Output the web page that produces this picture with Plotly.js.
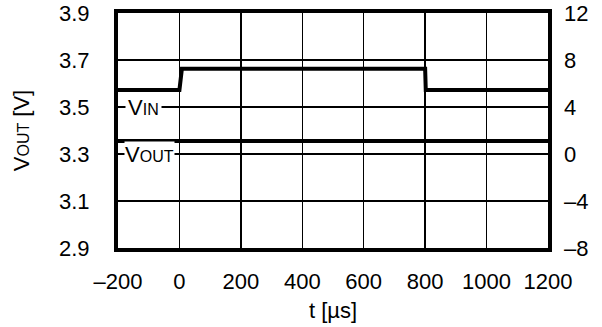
<!DOCTYPE html>
<html>
<head>
<meta charset="utf-8">
<script src="https://cdn.plot.ly/plotly-3.0.1.min.js"></script>
<style>html,body{margin:0;padding:0;background:#fff;}</style>
</head>
<body>
<div id="chart" style="width:602px;height:327px;"></div>
<script>
// Time axis (µs)
const vinTime = [-200, 0, 8, 800, 802, 1200];
const vinValues = [5.45, 5.45, 7.25, 7.25, 5.45, 5.45];   // V, right axis
const voutTime = [-200, 1200];
const voutValues = [3.355, 3.355];                          // V, left axis

const xTicks = [-200, 0, 200, 400, 600, 800, 1000, 1200];
const xTickText = ['–200', '0', '200', '400', '600', '800', '1000', '1200'];
const yTicks = [2.9, 3.1, 3.3, 3.5, 3.7, 3.9];
const yTickText = ['2.9', '3.1', '3.3', '3.5', '3.7', '3.9'];
const y2Ticks = [-8, -4, 0, 4, 8, 12];
const y2TickText = ['–8', '–4', '0', '4', '8', '12'];

const font = {family: 'Liberation Sans, Arial, sans-serif', size: 22, color: '#000'};

const traces = [
  {x: voutTime, y: voutValues, mode: 'lines', yaxis: 'y', line: {color: '#000', width: 4}, hoverinfo: 'skip', showlegend: false},
  {x: vinTime, y: vinValues, mode: 'lines', yaxis: 'y2', line: {color: '#000', width: 4}, hoverinfo: 'skip', showlegend: false}
];

const layout = {
  width: 602, height: 327,
  margin: {l: 118, r: 54, t: 13, b: 79},
  paper_bgcolor: '#fff', plot_bgcolor: '#fff',
  font: font,
  showlegend: false,
  xaxis: {
    range: [-200, 1200], tickvals: xTicks, ticktext: xTickText,
    showgrid: true, gridcolor: '#000', gridwidth: 1.5, zeroline: false,
    showline: true, linecolor: '#000', linewidth: 4, mirror: true,
    ticks: '', ticklabelstandoff: 11, tickfont: font,
    title: {text: 't [µs]', font: font, standoff: 10}
  },
  yaxis: {
    range: [2.9, 3.9], tickvals: yTicks, ticktext: yTickText,
    showgrid: true, gridcolor: '#000', gridwidth: 1.5, zeroline: false,
    showline: true, linecolor: '#000', linewidth: 4, mirror: true,
    ticks: '', ticklabelstandoff: 20, tickfont: font,
    title: {text: "V<span style='font-size:16px'>OUT</span> [V]", font: font, standoff: 24}
  },
  yaxis2: {
    range: [-8, 12], tickvals: y2Ticks, ticktext: y2TickText,
    overlaying: 'y', side: 'right', showgrid: false, zeroline: false,
    showline: false, ticks: '', ticklabelstandoff: 15, tickfont: font
  },
  annotations: [
    {x: -118, y: 3.5, xref: 'x', yref: 'y', text: "V<span style='font-size:16px'>IN</span>",
     showarrow: false, bgcolor: '#fff', font: font, borderpad: 2, xanchor: 'center', yanchor: 'middle'},
    {x: -98, y: 3.3, xref: 'x', yref: 'y', text: "V<span style='font-size:16px'>OUT</span>",
     showarrow: false, bgcolor: '#fff', font: font, borderpad: 0, xanchor: 'center', yanchor: 'middle'}
  ]
};

Plotly.newPlot('chart', traces, layout, {staticPlot: true, displayModeBar: false});
</script>
</body>
</html>
